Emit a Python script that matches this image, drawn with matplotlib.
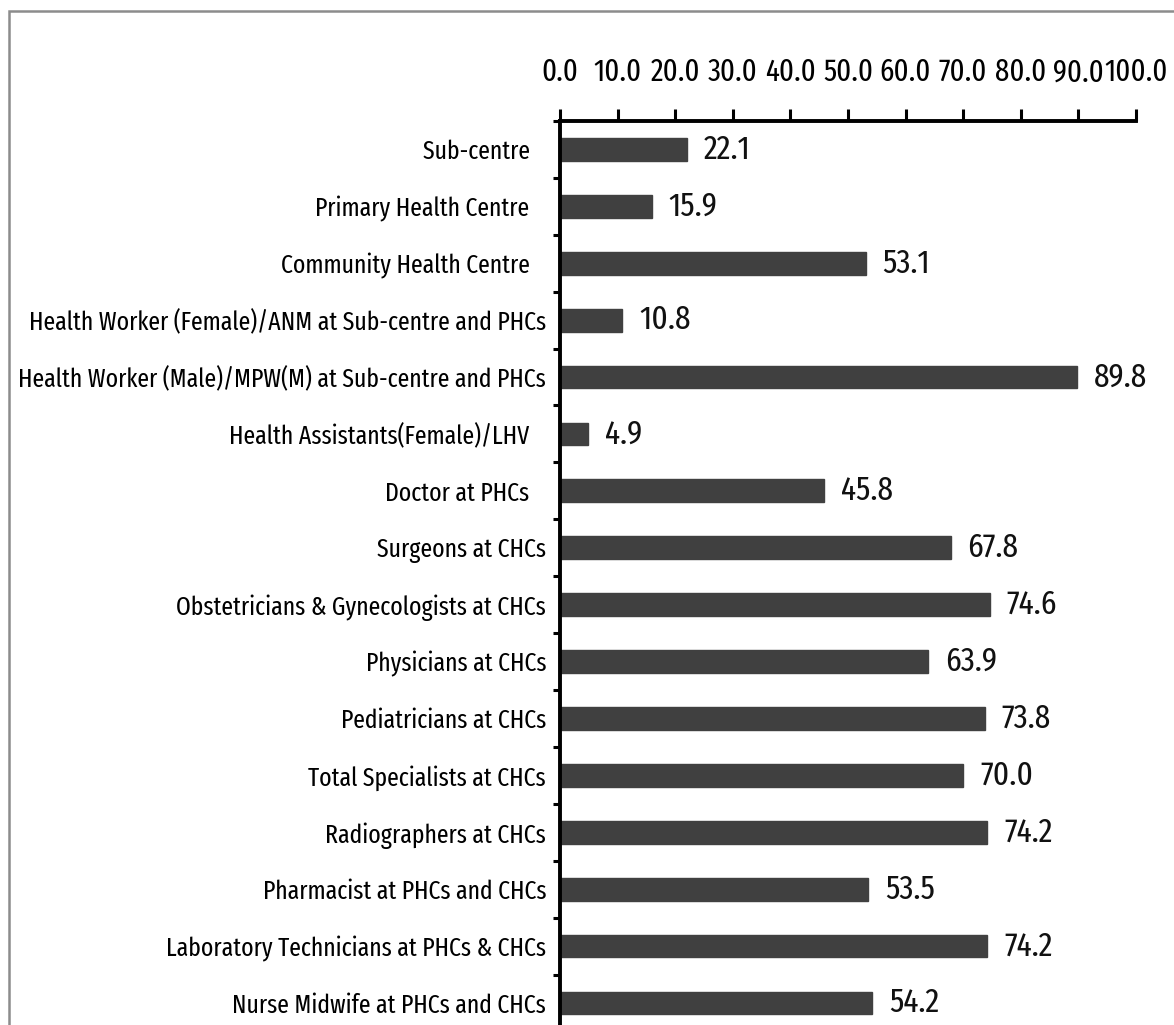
import matplotlib
matplotlib.use('Agg')
import matplotlib.pyplot as plt
from matplotlib.patches import Rectangle
from matplotlib.ticker import FixedLocator

##### data #####
categories = [
    "Sub-centre   ",
    "Primary Health Centre   ",
    "Community Health Centre   ",
    "Health Worker (Female)/ANM at Sub-centre and PHCs",
    "Health Worker (Male)/MPW(M) at Sub-centre and PHCs",
    "Health Assistants(Female)/LHV   ",
    "Doctor at PHCs   ",
    "Surgeons at CHCs",
    "Obstetricians & Gynecologists at CHCs",
    "Physicians at CHCs",
    "Pediatricians at CHCs",
    "Total Specialists at CHCs",
    "Radiographers at CHCs",
    "Pharmacist at PHCs and CHCs",
    "Laboratory Technicians at PHCs & CHCs",
    "Nurse Midwife at PHCs and CHCs",
]
values = [22.1, 15.9, 53.1, 10.8, 89.8, 4.9, 45.8, 67.8, 74.6, 63.9, 73.8, 70.0, 74.2, 53.5, 74.2, 54.2]
xticks = [0, 10, 20, 30, 40, 50, 60, 70, 80, 90, 100]
##### data end #####

plt.rcParams['font.family'] = ['Fira Sans Extra Condensed', 'DejaVu Sans']

fig = plt.figure(figsize=(11.74, 10.25), dpi=100)
fig.patch.set_facecolor('white')

# outer frame (cropped on right / bottom)
fig.patches.append(Rectangle((9 / 1174, -0.2), 1.2, 1.2 - 11 / 1025,
                             transform=fig.transFigure, fill=False,
                             edgecolor='#8c8c8c', linewidth=1.8))

ax = fig.add_axes([560 / 1174, -0.0063, 576 / 1174, 0.8883])

pos = list(range(len(categories)))
ax.barh(pos, values, height=0.4, color='#404040', edgecolor='#404040')
for p, v in zip(pos, values):
    ax.text(v + 2.9, p, "%.1f" % v, va='center', ha='left', fontsize=24.5, color='#111111')

ax.set_xlim(0, 100)
ax.set_ylim(len(categories) - 0.5, -0.5)

ax.xaxis.tick_top()
ax.set_xticks(xticks)
ax.set_xticklabels(["%.1f" % t for t in xticks], fontsize=22.5)
ax.tick_params(axis='x', direction='out', length=9, width=2.2, pad=15, color='black')

ax.set_yticks(pos)
ax.set_yticklabels(categories, fontsize=18.6)
ax.yaxis.set_minor_locator(FixedLocator([p - 0.5 for p in pos] + [len(pos) - 0.5]))
ax.tick_params(axis='y', which='major', length=0, pad=10)
ax.tick_params(axis='y', which='minor', direction='out', length=5, width=2.2, color='black')

for s in ['right', 'bottom']:
    ax.spines[s].set_visible(False)
for s in ['left', 'top']:
    ax.spines[s].set_linewidth(2.8)
    ax.spines[s].set_color('black')

plt.savefig("out.png", dpi=100)
